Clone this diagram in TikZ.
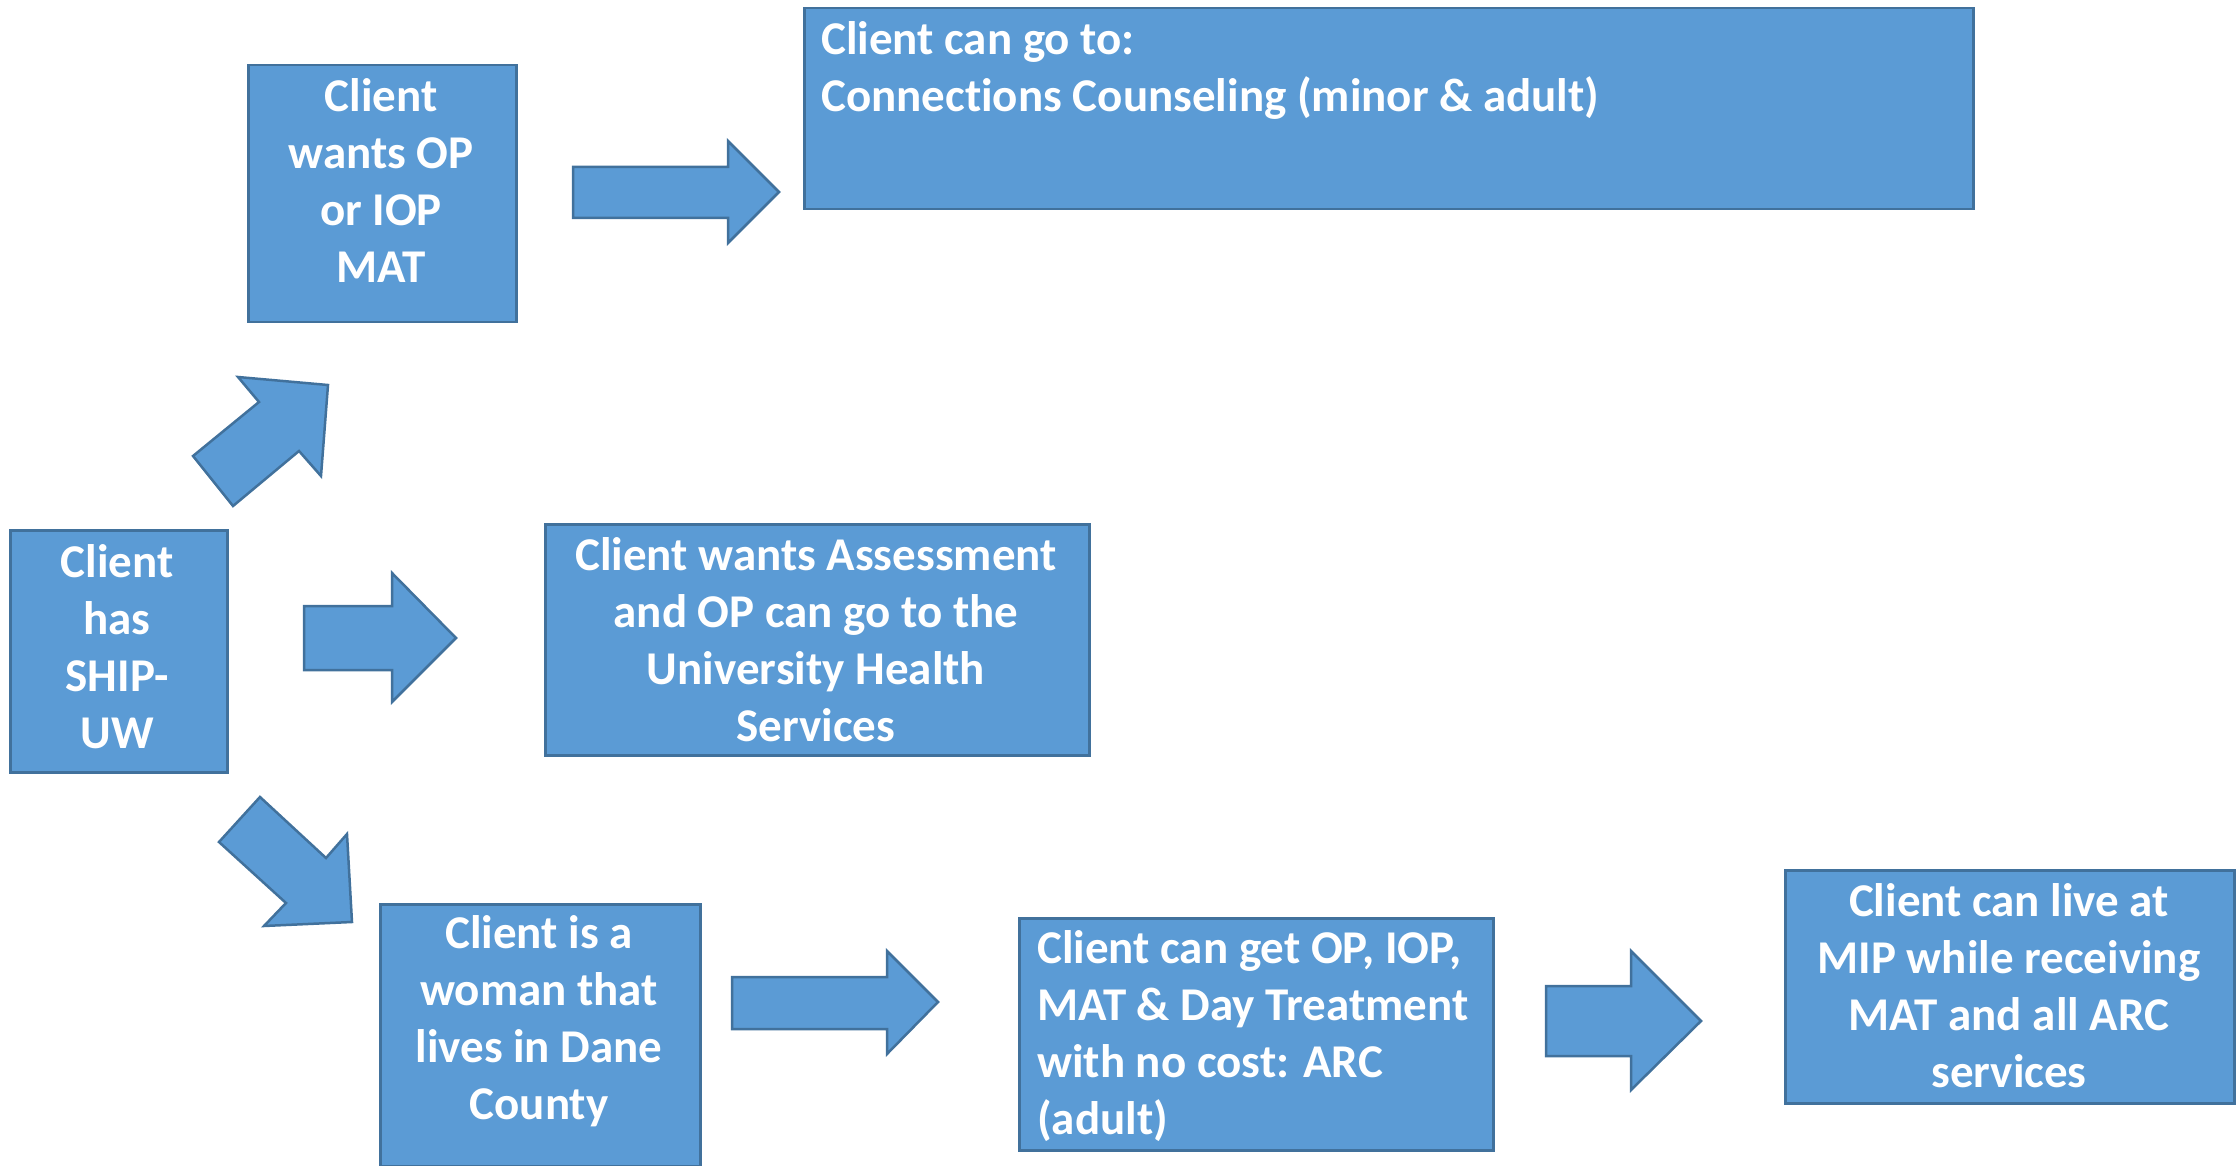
\documentclass[tikz,border=0pt]{standalone}
\usepackage{fontspec}
\setmainfont{Carlito}[Ligatures=NoCommon]
\definecolor{boxfill}{HTML}{5B9BD5}
\definecolor{boxline}{HTML}{41719C}
\tikzset{
  box/.style={draw=boxline, fill=boxfill, line width=2.5pt, inner sep=0pt},
  btext/.style={text=white, font=\fontsize{47}{57}\selectfont\bfseries, inner sep=0pt, align=center},
  ltext/.style={text=white, font=\fontsize{47}{57}\selectfont\bfseries, inner sep=0pt, align=left},
  blockarrow/.style={draw=boxline, fill=boxfill, line width=2.5pt, line join=miter},
}
\begin{document}
\begin{tikzpicture}[x=1pt,y=-1pt]
\useasboundingbox (0,0) rectangle (2236,1166);
% boxes
\node[box, anchor=north west, minimum width=268pt, minimum height=257pt] (op) at (247,64) {};
\node[box, anchor=north west, minimum width=1169pt, minimum height=201pt] (cc) at (803,7) {};
\node[box, anchor=north west, minimum width=217pt, minimum height=242pt] (ship) at (9,529) {};
\node[box, anchor=north west, minimum width=544pt, minimum height=231pt] (uhs) at (544,523) {};
\node[box, anchor=north west, minimum width=320pt, minimum height=262pt] (woman) at (379,903) {};
\node[box, anchor=north west, minimum width=474pt, minimum height=232pt] (arc) at (1018,917) {};
\node[box, anchor=north west, minimum width=449pt, minimum height=233pt] (mip) at (1784,869) {};
% texts
\node[btext] (opt) at (381,181) {Client\\wants OP\\or IOP\\MAT};
\node[ltext, anchor=west] (cct) at (821,70) {Client can go to:\\Connections Counseling (minor \& adult)};
\node[btext] (shipt) at (117,647) {Client\\has\\SHIP-\\UW};
\node[btext] (uhst) at (816,640) {Client wants Assessment\\and OP can go to the\\University Health\\Services};
\node[btext] (womant) at (539,1021) {Client is a\\woman that\\lives in Dane\\County};
\node[ltext, anchor=west] (arct) at (1037,1036) {Client can get OP, IOP,\\MAT \& Day Treatment\\with no cost: ARC\\(adult)};
\node[btext] (mipt) at (2009,986) {Client can live at\\MIP while receiving\\MAT and all ARC\\services};
% block arrows
\path[blockarrow] (193,456) -- (259,402) -- (238,377) -- (328,385) -- (321,476) -- (299,451) -- (233,506) -- cycle;
\path[blockarrow] (304,606) -- (392,606) -- (392,573) -- (456,638) -- (392,702) -- (392,670) -- (304,670) -- cycle;
\path[blockarrow] (260,797) -- (326,858) -- (347,834) -- (352,922) -- (264,926) -- (286,903) -- (219,842) -- cycle;
\path[blockarrow] (573,167) -- (728,167) -- (728,141) -- (779,192) -- (728,243) -- (728,218) -- (573,218) -- cycle;
\path[blockarrow] (732,977) -- (887,977) -- (887,951) -- (938,1002) -- (887,1054) -- (887,1029) -- (732,1029) -- cycle;
\path[blockarrow] (1546,986) -- (1631,986) -- (1631,951) -- (1701,1021) -- (1631,1090) -- (1631,1056) -- (1546,1056) -- cycle;
\end{tikzpicture}
\end{document}
